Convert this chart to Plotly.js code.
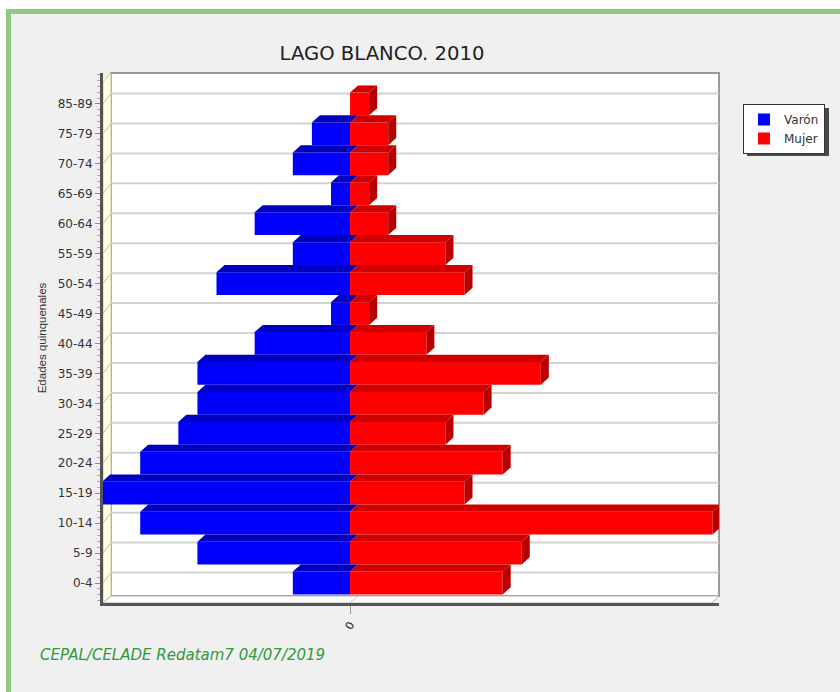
<!DOCTYPE html>
<html>
<head>
<meta charset="utf-8">
<script src="https://cdn.plot.ly/plotly-3.0.1.min.js"></script>
<style>html,body{margin:0;padding:0;background:#fff;}#chart{width:840px;height:692px;}</style>
</head>
<body>
<div id="chart"></div>
<script>
// ---- data ----
var categories = ['0-4','5-9','10-14','15-19','20-24','25-29','30-34','35-39','40-44','45-49','50-54','55-59','60-64','65-69','70-74','75-79','85-89'];
var varon = [3, 8, 11, 13, 11, 9, 8, 8, 5, 1, 7, 3, 5, 1, 3, 2, 0];
var mujer = [8, 9, 19, 6, 8, 5, 7, 10, 4, 1, 6, 5, 2, 1, 2, 2, 1];
var seriesNames = ['Varón', 'Mujer'];
var xTickVals = [0];
var xTickText = ['0'];

// ---- geometry / style ----
var W = 840, H = 692;
var L = 103, R = 719, T = 73, B = 603;           // plot area in px
var xRange = [-12.95, 19.34];
var yRange = [-0.668, 17.035];
var barW = 0.76, dx = 0.42, dy = 0.24;          // 3D depth (data units)
var gridOff = 0.35;

function px2paperX(p){ return (p - L) / (R - L); }
function px2paperY(p){ return (B - p) / (B - T); }
function yToPaper(v){ return (v - yRange[0]) / (yRange[1] - yRange[0]); }

var idx = categories.map(function(c, i){ return i; });
var negVaron = varon.map(function(v){ return -v; });

var traces = [
  {type:'bar', orientation:'h', name: seriesNames[0], y: idx, x: negVaron, width: barW,
   marker:{color:'#0000ff', line:{width:0}}, hoverinfo:'skip'},
  {type:'bar', orientation:'h', name: seriesNames[1], y: idx, x: mujer, width: barW,
   marker:{color:'#ff0000', line:{width:0}}, hoverinfo:'skip'}
];

// 3D faces built from data
var bx = [], by = [], rtx = [], rty = [], rsx = [], rsy = [];
idx.forEach(function(i){
  var yt = i + barW/2, yb = i - barW/2;
  var v = varon[i], m = mujer[i];
  if (v > 0) {
    bx.push(-v, 0, dx, -v + dx, -v, null);
    by.push(yt, yt, yt + dy, yt + dy, yt, null);
  }
  if (m > 0) {
    rtx.push(0, m, m + dx, dx, 0, null);
    rty.push(yt, yt, yt + dy, yt + dy, yt, null);
    rsx.push(m, m, m + dx, m + dx, m, null);
    rsy.push(yb, yt, yt + dy, yb + dy, yb, null);
  }
});
traces.push({type:'scatter', mode:'lines', x: bx, y: by, fill:'toself', fillcolor:'#0000c0',
             line:{width:0, color:'#0000c0'}, showlegend:false, hoverinfo:'skip'});
traces.push({type:'scatter', mode:'lines', x: rtx, y: rty, fill:'toself', fillcolor:'#d00000',
             line:{width:0, color:'#d00000'}, showlegend:false, hoverinfo:'skip'});
traces.push({type:'scatter', mode:'lines', x: rsx, y: rsy, fill:'toself', fillcolor:'#b80000',
             line:{width:0, color:'#b80000'}, showlegend:false, hoverinfo:'skip'});

// decorative shapes (paper refs, below traces)
var shapes = [];
// outer frame
shapes.push({type:'rect', xref:'paper', yref:'paper', layer:'below',
  x0: px2paperX(8.5), x1: px2paperX(900), y0: px2paperY(11.5), y1: px2paperY(760),
  fillcolor:'#f0f0f0', line:{color:'#92c882', width:5}});
// back wall
shapes.push({type:'rect', xref:'paper', yref:'paper', layer:'below',
  x0: px2paperX(111), x1: px2paperX(719), y0: px2paperY(73), y1: px2paperY(596),
  fillcolor:'#ffffff', line:{color:'#9a9a9a', width:2}});
// left wall
shapes.push({type:'path', xref:'paper', yref:'paper', layer:'below',
  path: 'M' + px2paperX(103) + ',' + px2paperY(603) + ' L' + px2paperX(103) + ',' + px2paperY(82) +
        ' L' + px2paperX(111) + ',' + px2paperY(73) + ' L' + px2paperX(111) + ',' + px2paperY(596) + ' Z',
  fillcolor:'#ffffe0', line:{color:'#c8c8b0', width:1}});
// floor
shapes.push({type:'path', xref:'paper', yref:'paper', layer:'below',
  path: 'M' + px2paperX(103) + ',' + px2paperY(603) + ' L' + px2paperX(111) + ',' + px2paperY(596) +
        ' L' + px2paperX(719) + ',' + px2paperY(596) + ' L' + px2paperX(712) + ',' + px2paperY(603) + ' Z',
  fillcolor:'#ffffff', line:{color:'#b0b0b0', width:1}});
// gridlines on back wall and wall diagonals
idx.forEach(function(i){
  shapes.push({type:'line', xref:'paper', yref:'paper', layer:'below',
    x0: px2paperX(111), x1: px2paperX(719), y0: yToPaper(i + gridOff), y1: yToPaper(i + gridOff),
    line:{color:'#d2d2d2', width:2}});
  shapes.push({type:'line', xref:'paper', yref:'paper', layer:'below',
    x0: 0, x1: px2paperX(111), y0: yToPaper(i), y1: yToPaper(i + gridOff),
    line:{color:'#bdbdb0', width:1}});
});
// floor diagonal at zero
shapes.push({type:'line', xref:'x', yref:'paper', layer:'below',
  x0: xTickVals[0], x1: xTickVals[0] + dx, y0: 0, y1: px2paperY(596),
  line:{color:'#c0c0c0', width:1}});
// legend shadow
shapes.push({type:'rect', xref:'paper', yref:'paper', layer:'above',
  x0: px2paperX(747), x1: px2paperX(829), y0: px2paperY(108), y1: px2paperY(156),
  fillcolor:'#4a4a4a', line:{width:0}});

var layout = {
  width: W, height: H,
  paper_bgcolor:'#ffffff', plot_bgcolor:'rgba(0,0,0,0)',
  margin:{l: L, r: W - R, t: T, b: H - B, pad: 0},
  barmode:'relative',
  showlegend: true,
  title:{text:'LAGO BLANCO. 2010', xref:'container', yref:'container', x: 382/W, y: 1 - 53/H,
         xanchor:'center', yanchor:'middle', font:{family:'DejaVu Sans', size:19.6, color:'#222'}},
  xaxis:{range: xRange, showgrid:false, zeroline:false, showline:true, linecolor:'#555', linewidth:3,
         tickmode:'array', tickvals: xTickVals, ticktext: xTickText, ticks:'outside', ticklen:8,
         tickcolor:'#9a9a9a', tickangle:-60, fixedrange:true,
         tickfont:{family:'DejaVu Sans', size:11, color:'#222'}},
  yaxis:{range: yRange, showgrid:false, zeroline:false, showline:true, linecolor:'#555', linewidth:3,
         tickmode:'array', tickvals: idx, ticktext: categories, ticks:'outside', ticklen:5,
         tickcolor:'#8a8a8a', fixedrange:true,
         minor:{dtick:0.2, tick0:0, ticks:'outside', ticklen:3, tickcolor:'#a8a8a8', showgrid:false},
         tickfont:{family:'DejaVu Sans', size:12, color:'#333'},
         title:{text:'Edades quinquenales', standoff:9, font:{family:'Liberation Sans', size:11.5, color:'#333'}}},
  legend:{x: px2paperX(743), y: px2paperY(104), xanchor:'left', yanchor:'top',
          bgcolor:'#ffffff', bordercolor:'#333', borderwidth:1, tracegroupgap:0,
          itemwidth:30, font:{family:'DejaVu Sans', size:12, color:'#333'}},
  shapes: shapes,
  annotations:[{text:'<i>CEPAL/CELADE Redatam7 04/07/2019</i>', xref:'paper', yref:'paper',
    x: px2paperX(38), y: px2paperY(655), xanchor:'left', yanchor:'middle', showarrow:false,
    font:{family:'DejaVu Sans', size:15, color:'#2f9a3a'}}]
};

Plotly.newPlot('chart', traces, layout, {staticPlot:true, displayModeBar:false});
</script>
</body>
</html>
